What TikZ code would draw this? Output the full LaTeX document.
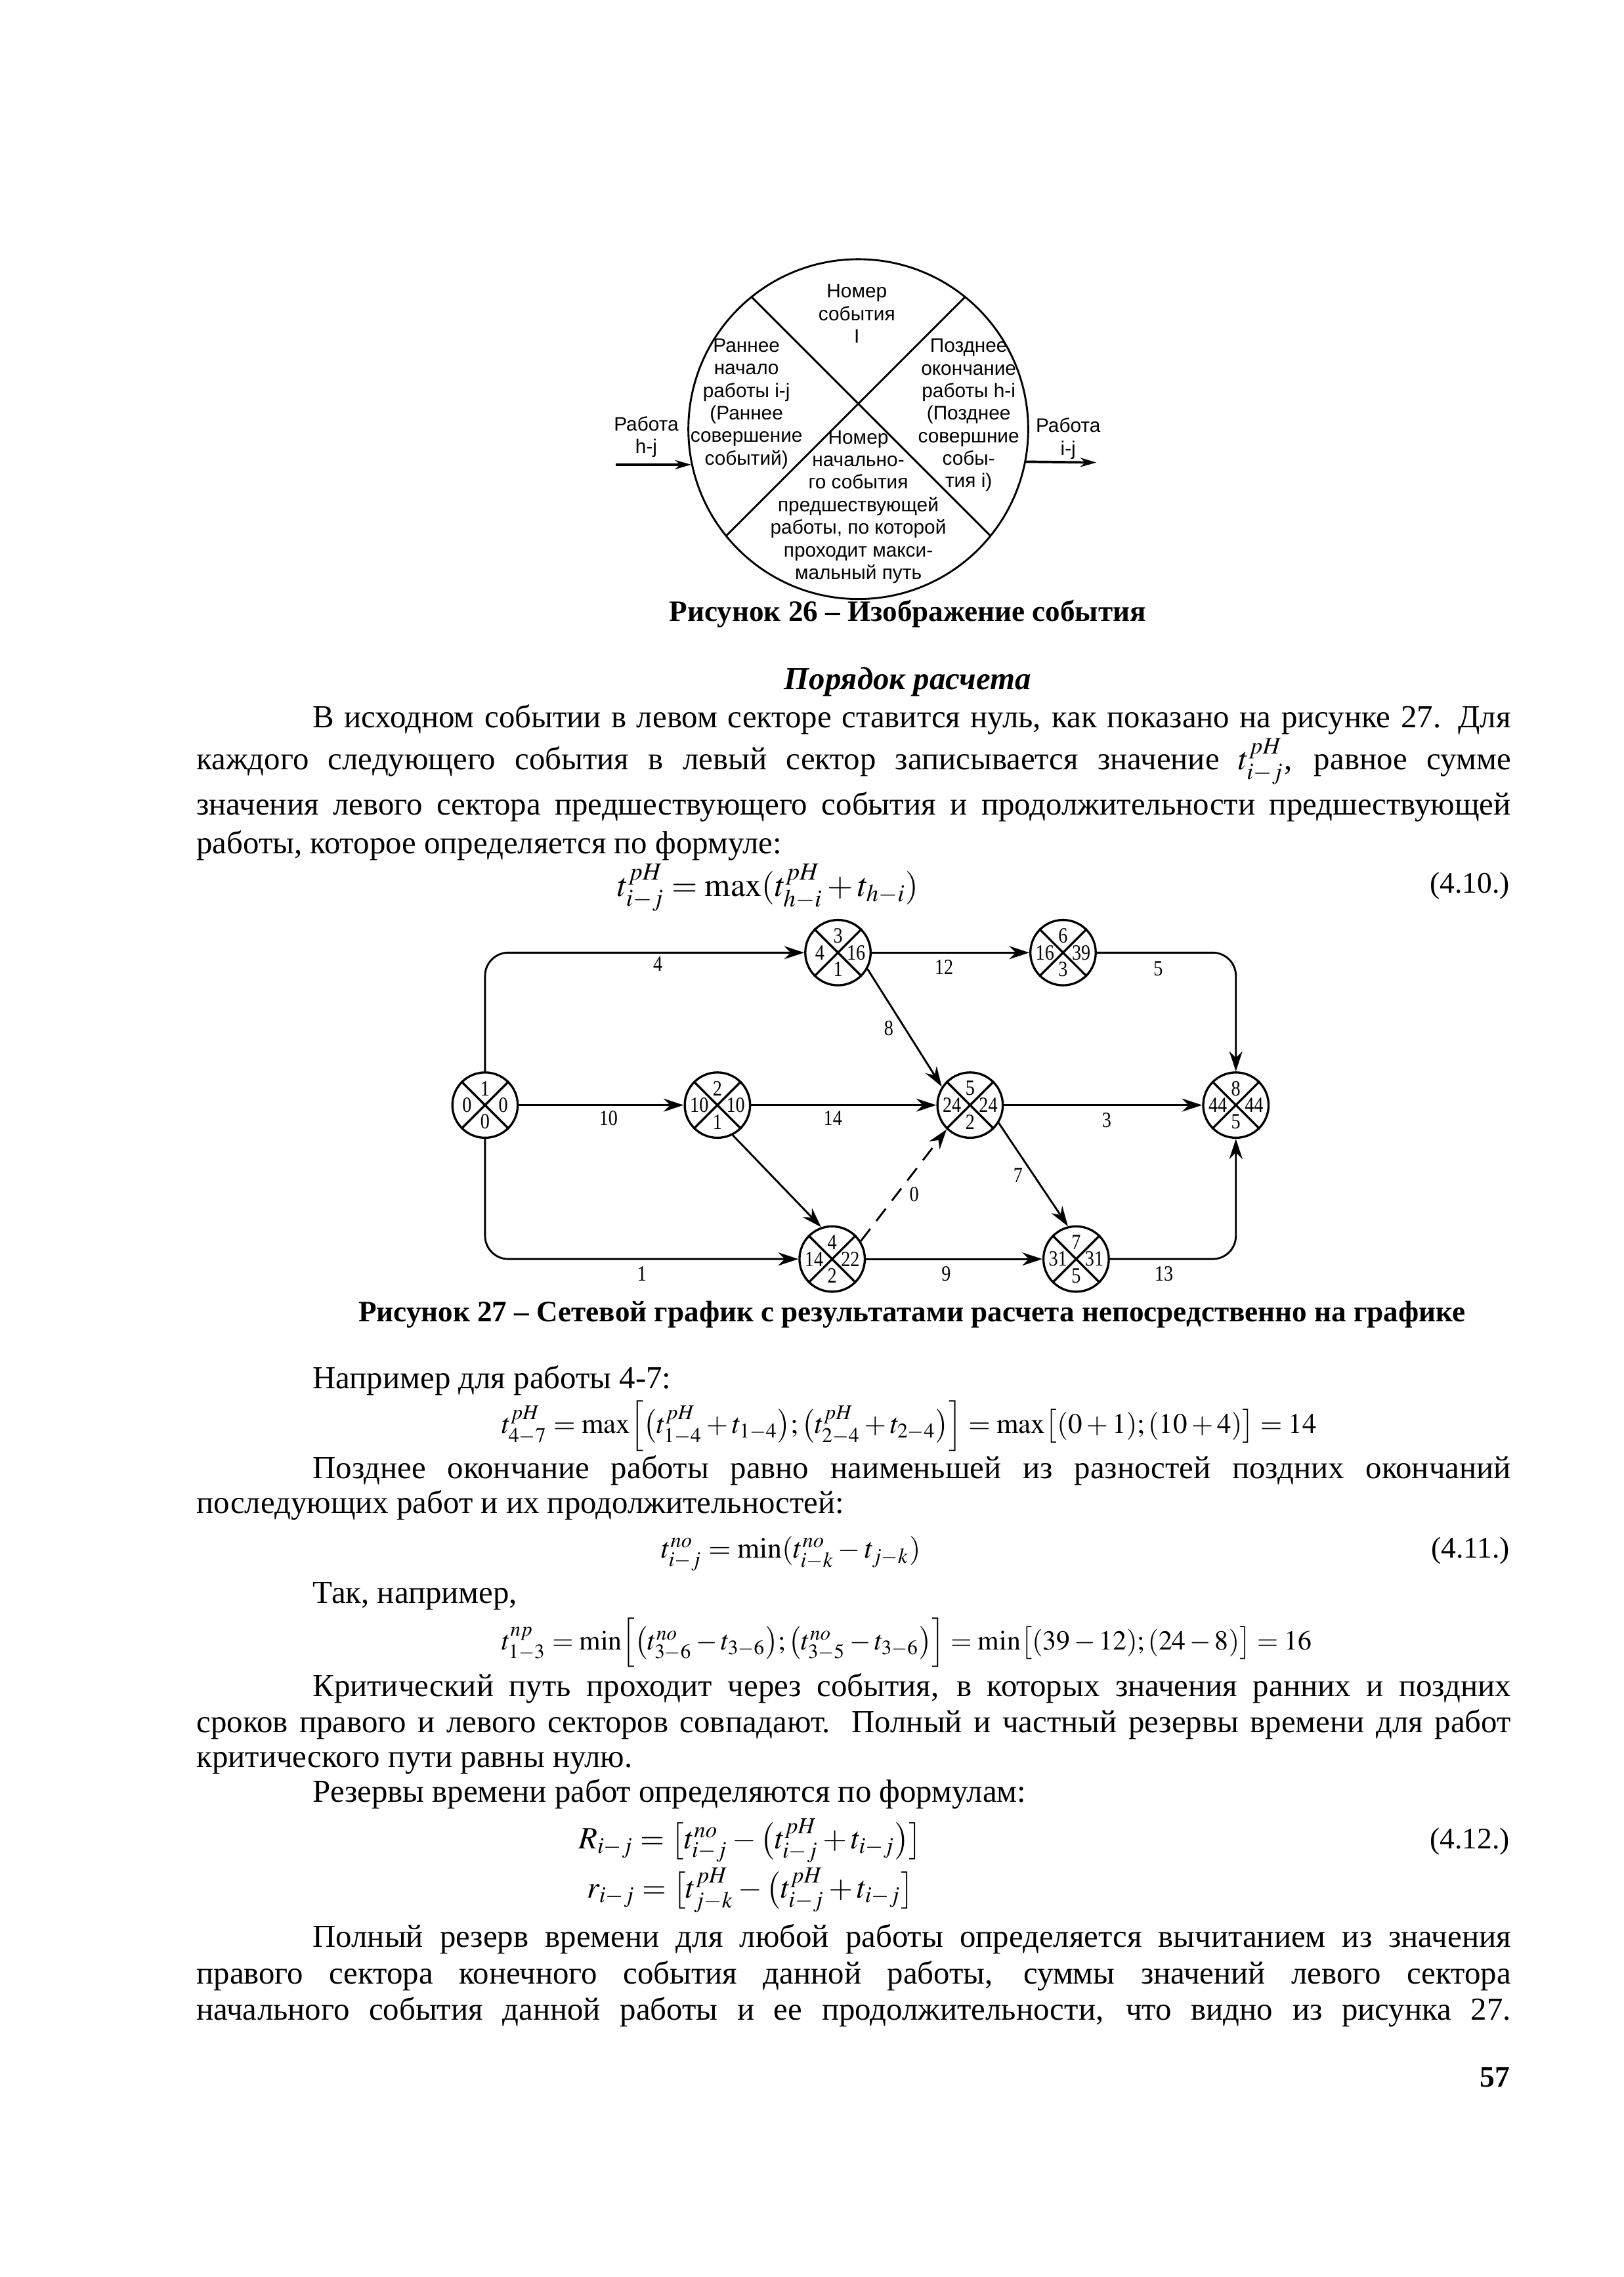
\documentclass[tikz,border=0pt]{standalone}
\usepackage{mathptmx}
\usepackage[no-math]{fontspec}
\setmainfont{Liberation Serif}
\newfontfamily\sansfig{Liberation Sans}
\newfontfamily\numfont[FakeStretch=0.85]{Liberation Serif}
\usetikzlibrary{arrows.meta}
\newlength{\unitpx}
\setlength{\unitpx}{0.187835mm}

\begin{document}
\begin{tikzpicture}[x=0.187835mm,y=-0.187835mm,>={Stealth[length=2.6mm,width=1.7mm]},
  txt/.style={anchor=base west,inner sep=0pt,font=\fontsize{11.8}{13.3}\selectfont},
  frm/.style={anchor=base west,inner sep=0pt,font=\fontsize{#1}{13}\selectfont},
  capt/.style={anchor=base,inner sep=0pt,font=\bfseries\fontsize{10.9}{13}\selectfont},
  eqno/.style={anchor=base east,inner sep=0pt,font=\fontsize{11}{13}\selectfont},
  sector/.style={inner sep=0pt,align=center,font=\sansfig\fontsize{7.2}{8.3}\selectfont},
  event/.style={draw,circle,line width=0.8pt,minimum size=45\unitpx,inner sep=0pt},
  num/.style={inner sep=0pt,font=\numfont\fontsize{8}{9}\selectfont},
  work/.style={line width=0.7pt}]
\fill[white] (0,0) rectangle (1118,1568);
\useasboundingbox (0,0) rectangle (1118,1568);

% event picture (fig. 26)
\node[draw,circle,minimum size=234\unitpx,inner sep=0pt,line width=0.7pt] (ev) at (591,295.5) {};
\draw[line width=0.7pt] (517.5,204.5) -- (682,369) (664.5,204.5) -- (500,369);
\node[sector] (snum) at (590,216) {Номер\\события\\I};
\node[sector] (searly) at (514,278) {Раннее\\начало\\работы i-j\\(Раннее\\совершение\\событий)};
\node[sector] (slate) at (667,286) {Позднее\\окончание\\работы h-i\\(Позднее\\совершние\\собы-\\тия i)};
\node[sector] (sprev) at (591,349) {Номер\\начально-\\го события\\предшествующей\\работы, по которой\\проходит макси-\\мальный путь};
\node[sector] (lin) at (445,301) {Работа\\h-j};
\node[sector] (lout) at (735.5,302) {Работа\\i-j};
\coordinate (inL) at (424,320);
\coordinate (outR) at (755,318.5);
\draw[-{Stealth[length=2.1mm,width=1.2mm]},line width=0.9pt] (inL) -- (ev.192);
\draw[-{Stealth[length=2.1mm,width=1.2mm]},line width=0.9pt] (ev.-11) -- (outR);
\node[capt] (cap26) at (625,428) {Рисунок 26 – Изображение события};

% text
\node[anchor=base,inner sep=0pt,font=\bfseries\itshape\fontsize{11.8}{13}\selectfont] (head) at (625,475) {Порядок расчета};
\node[txt] (p1a) at (215,501) {\makebox[825\unitpx][s]{В исходном событии в левом секторе ставится нуль, как показано на рисунке 27. Для}};
\node[txt] (p1b) at (135,530) {\makebox[905\unitpx][s]{каждого следующего события в левый сектор записывается значение $t^{pH}_{i-j}$, равное сумме}};
\node[txt] (p1c) at (135,561) {\makebox[905\unitpx][s]{значения левого сектора предшествующего события и продолжительности предшествующей}};
\node[txt] (p1d) at (135,588) {работы, которое определяется по формуле:};
\node[frm=12.2] (f410) at (425,617) {$t^{pH}_{i-j}=\max(t^{pH}_{h-i}+t_{h-i})$};
\node[eqno] (n410) at (1040,615) {(4.10.)};

% network (fig. 27)
\foreach \n/\px/\py/\nr/\es/\lf/\pr in {1/334/761/1/0/0/0, 2/494/761/2/10/10/1, 3/577/656/3/4/16/1,
  4/573/867/4/14/22/2, 5/668/761/5/24/24/2, 6/732/656/6/16/39/3, 7/741/867/7/31/31/5, 8/851/761/8/44/44/5}{
  \node[event] (n\n) at (\px,\py) {};
  \draw[line width=0.8pt] (n\n.45) -- (n\n.225) (n\n.135) -- (n\n.-45);
  \path (n\n) ++(0,-11.5) node[num] (nr\n) {\nr} (n\n) ++(0,11.5) node[num] (pr\n) {\pr}
        (n\n) ++(-12.5,0) node[num] (es\n) {\es} (n\n) ++(12.5,0) node[num] (lf\n) {\lf};
}
\draw[work,->,rounded corners=3mm] (n1.north) |- (n3.west);
\draw[work,->] (n1.east) -- (n2.west);
\draw[work,->,rounded corners=3mm] (n1.south) |- (n4.west);
\draw[work,->] (n3.east) -- (n6.west);
\draw[work,->] (n3.-29) -- (n5.147);
\draw[work,->] (n2.east) -- (n5.west);
\draw[work,->] (n2.-63) -- (n4.109);
\draw[work,->,dash pattern=on 2mm off 1.3mm] (n4.32) -- (n5.-134);
\draw[work,->] (n5.east) -- (n8.west);
\draw[work,->] (n5.-32) -- (n7.104);
\draw[work,->,rounded corners=3mm] (n6.east) -| (n8.north);
\draw[work,->] (n4.east) -- (n7.west);
\draw[work,->,rounded corners=3mm] (n7.east) -| (n8.south);
\node[num] (w13) at (453,664) {4};
\node[num] (w12) at (419,770) {10};
\node[num] (w14) at (442,877) {1};
\node[num] (w36) at (650,666) {12};
\node[num] (w25) at (573.5,770) {14};
\node[num] (w35) at (612,708) {8};
\node[num] (w68) at (797.5,667) {5};
\node[num] (w58) at (762,771.5) {3};
\node[num] (w57) at (701,809.5) {7};
\node[num] (w45) at (629.5,822.5) {0};
\node[num] (w47) at (651.5,877) {9};
\node[num] (w78) at (801.5,877) {13};
\node[capt] (cap27) at (628,910) {Рисунок 27 – Сетевой график с результатами расчета непосредственно на графике};

% text
\node[txt] (ex47) at (215,956) {Например для работы 4-7:};
\node[frm=10.4] (f47) at (345,987) {$t^{pH}_{4-7}=\max\Bigl[\bigl(t^{pH}_{1-4}+t_{1-4}\bigr);\bigl(t^{pH}_{2-4}+t_{2-4}\bigr)\Bigr]=\max\bigl[(0+1);(10+4)\bigr]=14$};
\node[txt] (p2a) at (215,1018) {\makebox[825\unitpx][s]{Позднее окончание работы равно наименьшей из разностей поздних окончаний}};
\node[txt] (p2b) at (135,1042) {последующих работ и их продолжительностей:};
\node[frm=10.6] (f411) at (455,1073) {$t^{no}_{i-j}=\min(t^{no}_{i-k}-t_{j-k})$};
\node[eqno] (n411) at (1040,1073) {(4.11.)};
\node[txt] (ex13) at (215,1104) {Так, например,};
\node[frm=10.1] (f13) at (345,1136) {$t^{np}_{1-3}=\min\Bigl[\bigl(t^{no}_{3-6}-t_{3-6}\bigr);\bigl(t^{no}_{3-5}-t_{3-6}\bigr)\Bigr]=\min\bigl[(39-12);(24-8)\bigr]=16$};
\node[txt] (p3a) at (215,1168) {\makebox[825\unitpx][s]{Критический путь проходит через события, в которых значения ранних и поздних}};
\node[txt] (p3b) at (135,1193) {\makebox[905\unitpx][s]{сроков правого и левого секторов совпадают. Полный и частный резервы времени для работ}};
\node[txt] (p3c) at (135,1217) {критического пути равны нулю.};
\node[txt] (p3d) at (215,1241) {Резервы времени работ определяются по формулам:};
\node[frm=11.4] (fR) at (398,1273) {$R_{i-j}=\bigl[t^{no}_{i-j}-\bigl(t^{pH}_{i-j}+t_{i-j}\bigr)\bigr]$};
\node[eqno] (n412) at (1040,1273) {(4.12.)};
\node[frm=11.4] (fr) at (404,1307) {$r_{i-j}=\bigl[t^{pH}_{j-k}-\bigl(t^{pH}_{i-j}+t_{i-j}\bigr]$};
\node[txt] (p4a) at (215,1341) {\makebox[825\unitpx][s]{Полный резерв времени для любой работы определяется вычитанием из значения}};
\node[txt] (p4b) at (135,1366) {\makebox[905\unitpx][s]{правого сектора конечного события данной работы, суммы значений левого сектора}};
\node[txt] (p4c) at (135,1391) {\makebox[905\unitpx][s]{начального события данной работы и ее продолжительности, что видно из рисунка 27.}};
\node[anchor=base east,inner sep=0pt,font=\bfseries\fontsize{11}{13}\selectfont] (pg) at (1040,1437) {57};
\end{tikzpicture}
\end{document}
